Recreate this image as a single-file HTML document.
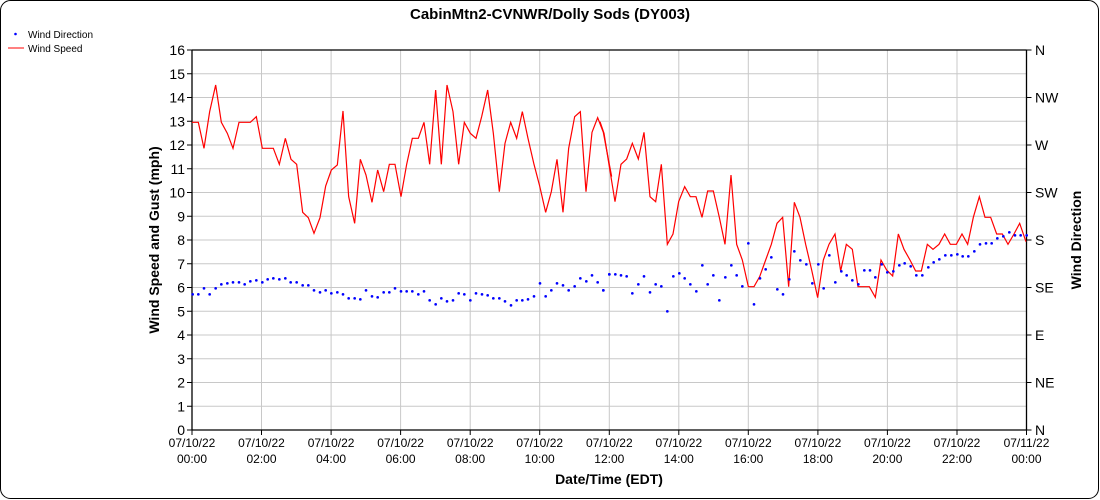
<!DOCTYPE html>
<html><head><meta charset="utf-8"><style>
html,body{margin:0;padding:0;background:#fff;}
svg{display:block;font-family:"Liberation Sans",Arial,sans-serif;}
</style></head><body>
<svg width="1100" height="500" viewBox="0 0 1100 500" xmlns="http://www.w3.org/2000/svg">
<rect x="0.5" y="0.5" width="1098" height="498" rx="10" ry="10" fill="#fff" stroke="#000" stroke-width="1"/>
<text x="550" y="19" text-anchor="middle" font-size="15" font-weight="bold">CabinMtn2-CVNWR/Dolly Sods (DY003)</text>
<!-- legend -->
<circle cx="15.5" cy="34" r="1.3" fill="#00f"/>
<text x="28" y="38" font-size="10">Wind Direction</text>
<line x1="8" y1="48" x2="24" y2="48" stroke="#f00" stroke-width="1"/>
<text x="28" y="52" font-size="10">Wind Speed</text>
<!-- grid -->
<g stroke="#c8c8c8" stroke-width="1">
<line x1="192" y1="73.75" x2="1026.5" y2="73.75"/><line x1="192" y1="97.5" x2="1026.5" y2="97.5"/>
<line x1="192" y1="121.25" x2="1026.5" y2="121.25"/><line x1="192" y1="145" x2="1026.5" y2="145"/>
<line x1="192" y1="168.75" x2="1026.5" y2="168.75"/><line x1="192" y1="192.5" x2="1026.5" y2="192.5"/>
<line x1="192" y1="216.25" x2="1026.5" y2="216.25"/><line x1="192" y1="240" x2="1026.5" y2="240"/>
<line x1="192" y1="263.75" x2="1026.5" y2="263.75"/><line x1="192" y1="287.5" x2="1026.5" y2="287.5"/>
<line x1="192" y1="311.25" x2="1026.5" y2="311.25"/><line x1="192" y1="335" x2="1026.5" y2="335"/>
<line x1="192" y1="358.75" x2="1026.5" y2="358.75"/><line x1="192" y1="382.5" x2="1026.5" y2="382.5"/>
<line x1="192" y1="406.25" x2="1026.5" y2="406.25"/>
<line x1="261.5" y1="50" x2="261.5" y2="430"/><line x1="331.1" y1="50" x2="331.1" y2="430"/>
<line x1="400.6" y1="50" x2="400.6" y2="430"/><line x1="470.2" y1="50" x2="470.2" y2="430"/>
<line x1="539.7" y1="50" x2="539.7" y2="430"/><line x1="609.3" y1="50" x2="609.3" y2="430"/>
<line x1="678.8" y1="50" x2="678.8" y2="430"/><line x1="748.3" y1="50" x2="748.3" y2="430"/>
<line x1="817.9" y1="50" x2="817.9" y2="430"/><line x1="887.4" y1="50" x2="887.4" y2="430"/>
<line x1="957" y1="50" x2="957" y2="430"/>
</g>
<!-- axes -->
<g stroke="#000" stroke-width="1.3" fill="none">
<line x1="192" y1="50" x2="1026.5" y2="50"/>
<line x1="192" y1="50" x2="192" y2="430"/>
<line x1="1026.5" y1="50" x2="1026.5" y2="430"/>
<line x1="192" y1="430" x2="1026.5" y2="430"/>
</g>
<g stroke="#000" stroke-width="1">
<line x1="187" y1="50" x2="192" y2="50"/><line x1="187" y1="73.75" x2="192" y2="73.75"/><line x1="187" y1="97.5" x2="192" y2="97.5"/><line x1="187" y1="121.25" x2="192" y2="121.25"/><line x1="187" y1="145" x2="192" y2="145"/><line x1="187" y1="168.75" x2="192" y2="168.75"/><line x1="187" y1="192.5" x2="192" y2="192.5"/><line x1="187" y1="216.25" x2="192" y2="216.25"/><line x1="187" y1="240" x2="192" y2="240"/><line x1="187" y1="263.75" x2="192" y2="263.75"/><line x1="187" y1="287.5" x2="192" y2="287.5"/><line x1="187" y1="311.25" x2="192" y2="311.25"/><line x1="187" y1="335" x2="192" y2="335"/><line x1="187" y1="358.75" x2="192" y2="358.75"/><line x1="187" y1="382.5" x2="192" y2="382.5"/><line x1="187" y1="406.25" x2="192" y2="406.25"/><line x1="187" y1="430" x2="192" y2="430"/>
<line x1="1026.5" y1="50" x2="1031.5" y2="50"/><line x1="1026.5" y1="97.5" x2="1031.5" y2="97.5"/><line x1="1026.5" y1="145" x2="1031.5" y2="145"/><line x1="1026.5" y1="192.5" x2="1031.5" y2="192.5"/><line x1="1026.5" y1="240" x2="1031.5" y2="240"/><line x1="1026.5" y1="287.5" x2="1031.5" y2="287.5"/><line x1="1026.5" y1="335" x2="1031.5" y2="335"/><line x1="1026.5" y1="382.5" x2="1031.5" y2="382.5"/><line x1="1026.5" y1="430" x2="1031.5" y2="430"/>
<line x1="192" y1="430" x2="192" y2="435"/><line x1="261.5" y1="430" x2="261.5" y2="435"/><line x1="331.1" y1="430" x2="331.1" y2="435"/><line x1="400.6" y1="430" x2="400.6" y2="435"/><line x1="470.2" y1="430" x2="470.2" y2="435"/><line x1="539.7" y1="430" x2="539.7" y2="435"/><line x1="609.3" y1="430" x2="609.3" y2="435"/><line x1="678.8" y1="430" x2="678.8" y2="435"/><line x1="748.3" y1="430" x2="748.3" y2="435"/><line x1="817.9" y1="430" x2="817.9" y2="435"/><line x1="887.4" y1="430" x2="887.4" y2="435"/><line x1="957" y1="430" x2="957" y2="435"/><line x1="1026.5" y1="430" x2="1026.5" y2="435"/>
</g>
<g font-size="14" text-anchor="end">
<text x="185" y="55">16</text><text x="185" y="78.75">15</text><text x="185" y="102.5">14</text><text x="185" y="126.25">13</text><text x="185" y="150">12</text><text x="185" y="173.75">11</text><text x="185" y="197.5">10</text><text x="185" y="221.25">9</text><text x="185" y="245">8</text><text x="185" y="268.75">7</text><text x="185" y="292.5">6</text><text x="185" y="316.25">5</text><text x="185" y="340">4</text><text x="185" y="363.75">3</text><text x="185" y="387.5">2</text><text x="185" y="411.25">1</text><text x="185" y="435">0</text>
</g>
<g font-size="14">
<text x="1035" y="55">N</text><text x="1035" y="102.5">NW</text><text x="1035" y="150">W</text><text x="1035" y="197.5">SW</text><text x="1035" y="245">S</text><text x="1035" y="292.5">SE</text><text x="1035" y="340">E</text><text x="1035" y="387.5">NE</text><text x="1035" y="435">N</text>
</g>
<g font-size="12" text-anchor="middle">
<text x="192" y="447">07/10/22</text><text x="192" y="463">00:00</text>
<text x="261.5" y="447">07/10/22</text><text x="261.5" y="463">02:00</text>
<text x="331.1" y="447">07/10/22</text><text x="331.1" y="463">04:00</text>
<text x="400.6" y="447">07/10/22</text><text x="400.6" y="463">06:00</text>
<text x="470.2" y="447">07/10/22</text><text x="470.2" y="463">08:00</text>
<text x="539.7" y="447">07/10/22</text><text x="539.7" y="463">10:00</text>
<text x="609.3" y="447">07/10/22</text><text x="609.3" y="463">12:00</text>
<text x="678.8" y="447">07/10/22</text><text x="678.8" y="463">14:00</text>
<text x="748.3" y="447">07/10/22</text><text x="748.3" y="463">16:00</text>
<text x="817.9" y="447">07/10/22</text><text x="817.9" y="463">18:00</text>
<text x="887.4" y="447">07/10/22</text><text x="887.4" y="463">20:00</text>
<text x="957" y="447">07/10/22</text><text x="957" y="463">22:00</text>
<text x="1026.5" y="447">07/11/22</text><text x="1026.5" y="463">00:00</text>
</g>
<text x="609" y="484" font-size="14" font-weight="bold" text-anchor="middle">Date/Time (EDT)</text>
<text transform="translate(159,240) rotate(-90)" font-size="14" font-weight="bold" text-anchor="middle">Wind Speed and Gust (mph)</text>
<text transform="translate(1081,240) rotate(-90)" font-size="14" font-weight="bold" text-anchor="middle">Wind Direction</text>
<!-- series part 1 -->
<g transform="translate(190,70) scale(0.33333)">
<polyline fill="none" stroke="#f00" stroke-width="1.2" vector-effect="non-scaling-stroke" points="6,157 25,157 42,235 59,125 77,45 94,157 112,190 129,235 147,157 181,157 199,140 217,235 250,235 268,283 286,205 303,268 320,283 338,427 355,443 372,490 390,443 407,348 424,300 442,285 459,123 476,380 494,460 511,268 528,315 546,397 563,300 581,365 598,283 615,283 633,380 650,283 667,205 685,205 702,157 719,283 737,60 754,283 771,45 789,125 806,283 823,157 841,190 858,205 875,140 893,60 910,190 928,365 945,220 962,157 980,205 997,125 1014,205 1032,283 1049,348 1067,427 1084,365 1101,268 1119,427 1136,235 1154,140 1171,125 1188,365 1206,187 1223,143 1240,187 1258,283 1265,320"/>
<g fill="#00f">
<circle cx="8" cy="673" r="4"/><circle cx="25" cy="673" r="4"/><circle cx="42" cy="655" r="4"/><circle cx="59" cy="673" r="4"/><circle cx="77" cy="655" r="4"/><circle cx="94" cy="643" r="4"/><circle cx="112" cy="640" r="4"/><circle cx="129" cy="637" r="4"/><circle cx="147" cy="637" r="4"/><circle cx="164" cy="643" r="4"/><circle cx="181" cy="634" r="4"/><circle cx="199" cy="631" r="4"/><circle cx="217" cy="637" r="4"/><circle cx="233" cy="628" r="4"/><circle cx="250" cy="625" r="4"/><circle cx="268" cy="628" r="4"/><circle cx="286" cy="625" r="4"/><circle cx="302" cy="637" r="4"/><circle cx="320" cy="637" r="4"/><circle cx="338" cy="646" r="4"/><circle cx="355" cy="646" r="4"/><circle cx="372" cy="661" r="4"/><circle cx="390" cy="667" r="4"/><circle cx="407" cy="661" r="4"/><circle cx="424" cy="670" r="4"/><circle cx="442" cy="667" r="4"/><circle cx="459" cy="673" r="4"/><circle cx="476" cy="685" r="4"/><circle cx="494" cy="685" r="4"/><circle cx="511" cy="688" r="4"/><circle cx="528" cy="661" r="4"/><circle cx="546" cy="679" r="4"/><circle cx="563" cy="682" r="4"/><circle cx="581" cy="667" r="4"/><circle cx="598" cy="667" r="4"/><circle cx="615" cy="655" r="4"/><circle cx="633" cy="664" r="4"/><circle cx="650" cy="664" r="4"/><circle cx="667" cy="664" r="4"/><circle cx="685" cy="673" r="4"/><circle cx="702" cy="664" r="4"/><circle cx="719" cy="691" r="4"/><circle cx="737" cy="703" r="4"/><circle cx="754" cy="685" r="4"/><circle cx="771" cy="694" r="4"/><circle cx="789" cy="691" r="4"/><circle cx="806" cy="670" r="4"/><circle cx="823" cy="673" r="4"/><circle cx="841" cy="691" r="4"/><circle cx="858" cy="670" r="4"/><circle cx="876" cy="673" r="4"/><circle cx="893" cy="676" r="4"/><circle cx="910" cy="685" r="4"/><circle cx="928" cy="685" r="4"/><circle cx="945" cy="694" r="4"/><circle cx="963" cy="706" r="4"/><circle cx="980" cy="691" r="4"/><circle cx="997" cy="691" r="4"/><circle cx="1014" cy="688" r="4"/><circle cx="1032" cy="679" r="4"/><circle cx="1050" cy="640" r="4"/><circle cx="1067" cy="679" r="4"/><circle cx="1084" cy="661" r="4"/><circle cx="1101" cy="640" r="4"/><circle cx="1119" cy="646" r="4"/><circle cx="1136" cy="661" r="4"/><circle cx="1154" cy="649" r="4"/><circle cx="1171" cy="625" r="4"/><circle cx="1189" cy="634" r="4"/><circle cx="1206" cy="616" r="4"/><circle cx="1223" cy="637" r="4"/><circle cx="1240" cy="661" r="4"/><circle cx="1258" cy="613" r="4"/>
</g>
</g>
<!-- series part 2 -->
<g transform="translate(600,120) scale(0.33333)">
<polyline fill="none" stroke="#f00" stroke-width="1.2" vector-effect="non-scaling-stroke" points="0,5 12,40 28,140 45,245 63,133 80,117 97,70 115,117 132,37 150,230 167,245 184,133 202,373 219,342 236,245 254,200 271,230 288,230 306,292 323,213 340,213 358,292 375,373 393,165 410,373 427,420 445,500 462,500 479,470 497,420 514,373 531,310 548,292 566,500 583,247 600,292 617,373 635,450 653,533 670,420 687,373 705,342 722,453 739,373 757,388 774,500 791,500 808,500 826,532 843,420 860,450 878,468 895,342 912,388 930,420 947,453 964,453 982,373 999,388 1017,373 1034,342 1051,373 1069,373 1086,342 1103,373 1120,292 1138,230 1155,292 1172,292 1190,342 1207,342 1224,373 1242,342 1259,310 1278,365"/>
<g fill="#00f">
<circle cx="10" cy="511" r="4"/><circle cx="28" cy="463" r="4"/><circle cx="46" cy="463" r="4"/><circle cx="63" cy="466" r="4"/><circle cx="80" cy="469" r="4"/><circle cx="97" cy="520" r="4"/><circle cx="115" cy="493" r="4"/><circle cx="132" cy="469" r="4"/><circle cx="150" cy="517" r="4"/><circle cx="167" cy="493" r="4"/><circle cx="184" cy="499" r="4"/><circle cx="202" cy="574" r="4"/><circle cx="220" cy="469" r="4"/><circle cx="238" cy="460" r="4"/><circle cx="254" cy="475" r="4"/><circle cx="271" cy="493" r="4"/><circle cx="289" cy="514" r="4"/><circle cx="307" cy="436" r="4"/><circle cx="323" cy="493" r="4"/><circle cx="340" cy="466" r="4"/><circle cx="358" cy="541" r="4"/><circle cx="376" cy="472" r="4"/><circle cx="394" cy="436" r="4"/><circle cx="410" cy="466" r="4"/><circle cx="427" cy="499" r="4"/><circle cx="445" cy="370" r="4"/><circle cx="462" cy="553" r="4"/><circle cx="480" cy="475" r="4"/><circle cx="497" cy="448" r="4"/><circle cx="514" cy="412" r="4"/><circle cx="532" cy="508" r="4"/><circle cx="549" cy="523" r="4"/><circle cx="568" cy="478" r="4"/><circle cx="583" cy="394" r="4"/><circle cx="601" cy="421" r="4"/><circle cx="619" cy="433" r="4"/><circle cx="637" cy="490" r="4"/><circle cx="655" cy="433" r="4"/><circle cx="671" cy="505" r="4"/><circle cx="688" cy="406" r="4"/><circle cx="706" cy="487" r="4"/><circle cx="724" cy="454" r="4"/><circle cx="740" cy="466" r="4"/><circle cx="757" cy="481" r="4"/><circle cx="775" cy="493" r="4"/><circle cx="793" cy="451" r="4"/><circle cx="810" cy="451" r="4"/><circle cx="826" cy="472" r="4"/><circle cx="845" cy="433" r="4"/><circle cx="862" cy="457" r="4"/><circle cx="880" cy="454" r="4"/><circle cx="898" cy="436" r="4"/><circle cx="914" cy="430" r="4"/><circle cx="932" cy="439" r="4"/><circle cx="949" cy="466" r="4"/><circle cx="967" cy="466" r="4"/><circle cx="985" cy="442" r="4"/><circle cx="1001" cy="427" r="4"/><circle cx="1018" cy="418" r="4"/><circle cx="1036" cy="406" r="4"/><circle cx="1054" cy="406" r="4"/><circle cx="1072" cy="403" r="4"/><circle cx="1088" cy="409" r="4"/><circle cx="1105" cy="409" r="4"/><circle cx="1123" cy="394" r="4"/><circle cx="1140" cy="373" r="4"/><circle cx="1158" cy="370" r="4"/><circle cx="1175" cy="370" r="4"/><circle cx="1192" cy="355" r="4"/><circle cx="1210" cy="349" r="4"/><circle cx="1228" cy="337" r="4"/><circle cx="1245" cy="346" r="4"/><circle cx="1262" cy="346" r="4"/><circle cx="1280" cy="346" r="4"/>
</g>
</g>
</svg>
</body></html>
